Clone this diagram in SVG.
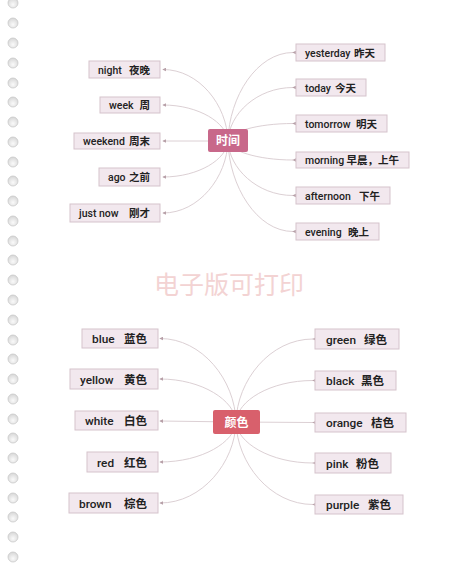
<svg xmlns="http://www.w3.org/2000/svg" width="460" height="571" viewBox="0 0 460 571">
<defs>
<radialGradient id="hole" cx="0.5" cy="0.65" r="0.6">
<stop offset="0" stop-color="#fafafa"/>
<stop offset="1" stop-color="#d9d9d9"/>
</radialGradient>
<marker id="dot" viewBox="0 0 6 6" refX="5" refY="3" markerWidth="4" markerHeight="4" orient="auto" markerUnits="userSpaceOnUse">
<path d="M0,0 L6,3 L0,6 z" fill="#b7a0a8"/>
</marker>
<marker id="dotR" viewBox="0 0 6 6" refX="1" refY="3" markerWidth="4" markerHeight="4" orient="auto" markerUnits="userSpaceOnUse">
<path d="M6,0 L0,3 L6,6 z" fill="#b7a0a8"/>
</marker>
</defs>
<style>
.box{fill:#f2e8ee;stroke:#d5c3cc;stroke-width:1}
.en{font-family:Roboto,"Liberation Sans",sans-serif;font-size:10.5px;font-weight:500;fill:#222;}
.zh{font-family:"Noto Sans CJK SC",sans-serif;font-size:10.5px;font-weight:bold;fill:#222;}
.en2{font-family:Roboto,"Liberation Sans",sans-serif;font-size:11.8px;font-weight:500;fill:#222;}
.zh2{font-family:"Noto Sans CJK SC",sans-serif;font-size:11.5px;font-weight:bold;fill:#222;}
.cen{font-family:"Noto Sans CJK SC",sans-serif;font-size:12px;font-weight:bold;fill:#fff;}
.c{fill:none;stroke:#dcd0d4;stroke-width:1}
.hole{fill:url(#hole);stroke:#c9c9c9;stroke-width:0.8}
</style>
<rect width="460" height="571" fill="#ffffff"/>
<g id="holes">
<circle class="hole" cx="13" cy="3" r="5"/><circle class="hole" cx="13" cy="23" r="5"/><circle class="hole" cx="13" cy="43" r="5"/><circle class="hole" cx="13" cy="63" r="5"/><circle class="hole" cx="13" cy="83" r="5"/><circle class="hole" cx="13" cy="102" r="5"/><circle class="hole" cx="13" cy="122" r="5"/><circle class="hole" cx="13" cy="142" r="5"/><circle class="hole" cx="13" cy="162" r="5"/><circle class="hole" cx="13" cy="181" r="5"/><circle class="hole" cx="13" cy="201" r="5"/><circle class="hole" cx="13" cy="221" r="5"/><circle class="hole" cx="13" cy="241" r="5"/><circle class="hole" cx="13" cy="260" r="5"/><circle class="hole" cx="13" cy="280" r="5"/><circle class="hole" cx="13" cy="300" r="5"/><circle class="hole" cx="13" cy="320" r="5"/><circle class="hole" cx="13" cy="340" r="5"/><circle class="hole" cx="13" cy="359" r="5"/><circle class="hole" cx="13" cy="379" r="5"/><circle class="hole" cx="13" cy="399" r="5"/><circle class="hole" cx="13" cy="419" r="5"/><circle class="hole" cx="13" cy="438" r="5"/><circle class="hole" cx="13" cy="458" r="5"/><circle class="hole" cx="13" cy="478" r="5"/><circle class="hole" cx="13" cy="498" r="5"/><circle class="hole" cx="13" cy="517" r="5"/><circle class="hole" cx="13" cy="537" r="5"/><circle class="hole" cx="13" cy="557" r="5"/>
</g>
<text x="229" y="294" text-anchor="middle" font-family="Noto Sans CJK SC,sans-serif" font-size="25" fill="#f3d3d3">电子版可打印</text>
<g id="connectors">
<path class="c" marker-end="url(#dot)" d="M228,141 C227,105 199,69.5 163,69.5"/>
<path class="c" marker-end="url(#dot)" d="M228,141 C227,123 199,105 163,105"/>
<path class="c" marker-end="url(#dot)" d="M228,141 L163,141"/>
<path class="c" marker-end="url(#dot)" d="M228,141 C227,159 199,177 163,177"/>
<path class="c" marker-end="url(#dot)" d="M228,141 C227,177 199,213 163,213"/>
<path class="c" marker-end="url(#dotR)" d="M228,141 C229,96.75 257,52.5 293,52.5"/>
<path class="c" marker-end="url(#dotR)" d="M228,141 C229,114 257,87.5 293,87.5"/>
<path class="c" marker-end="url(#dotR)" d="M228,141 C229,132 257,123.5 293,123.5"/>
<path class="c" marker-end="url(#dotR)" d="M228,141 C229,150.5 257,160 293,160"/>
<path class="c" marker-end="url(#dotR)" d="M228,141 C229,168 257,195.5 293,195.5"/>
<path class="c" marker-end="url(#dotR)" d="M228,141 C229,186 257,231.5 293,231.5"/>
<path class="c" marker-end="url(#dot)" d="M236,422 C235,380 202,338.5 160,338.5"/>
<path class="c" marker-end="url(#dot)" d="M236,422 C235,400.5 202,379 160,379"/>
<path class="c" marker-end="url(#dot)" d="M236,422 L160,421"/>
<path class="c" marker-end="url(#dot)" d="M236,422 C235,442 202,462 160,462"/>
<path class="c" marker-end="url(#dot)" d="M236,422 C235,462.5 202,503 160,503"/>
<path class="c" marker-end="url(#dotR)" d="M236,422 C237,380.5 270,339 313,339"/>
<path class="c" marker-end="url(#dotR)" d="M236,422 C237,401 270,380.5 313,380.5"/>
<path class="c" marker-end="url(#dotR)" d="M236,422 L313,422.5"/>
<path class="c" marker-end="url(#dotR)" d="M236,422 C237,442.5 270,463 313,463"/>
<path class="c" marker-end="url(#dotR)" d="M236,422 C237,463 270,504.5 313,504.5"/>
</g>
<g id="time">
<rect x="208" y="129" width="40" height="23" rx="2" fill="#c8688a"/>
<text class="cen" x="228" y="145" text-anchor="middle">时间</text>
</g>
<g id="color">
<rect x="213" y="410" width="47" height="24" rx="2" fill="#d8606c"/>
<text class="cen" x="236.5" y="426.5" text-anchor="middle">颜色</text>
</g>
<g id="n-night"><rect class="box" x="89" y="61" width="71" height="17"/><text class="en" x="98" y="73.5">night</text><text class="zh" x="150" y="73.5" text-anchor="end">夜晚</text></g>
<g id="n-week"><rect class="box" x="100" y="97" width="60" height="16"/><text class="en" x="109" y="109">week</text><text class="zh" x="150" y="109" text-anchor="end">周</text></g>
<g id="n-weekend"><rect class="box" x="74" y="133" width="86" height="16"/><text class="en" x="83" y="145">weekend</text><text class="zh" x="150" y="145" text-anchor="end">周末</text></g>
<g id="n-ago"><rect class="box" x="99" y="168" width="61" height="18"/><text class="en" x="108" y="181">ago</text><text class="zh" x="150" y="181" text-anchor="end">之前</text></g>
<g id="n-justnow"><rect class="box" x="70" y="204" width="90" height="18"/><text class="en" x="79" y="217">just now</text><text class="zh" x="150" y="217" text-anchor="end">刚才</text></g>
<g id="n-yesterday"><rect class="box" x="296" y="44" width="89" height="17"/><text class="en" x="305" y="56.5">yesterday</text><text class="zh" x="375" y="56.5" text-anchor="end">昨天</text></g>
<g id="n-today"><rect class="box" x="296" y="79" width="70" height="17"/><text class="en" x="305" y="91.5">today</text><text class="zh" x="356" y="91.5" text-anchor="end">今天</text></g>
<g id="n-tomorrow"><rect class="box" x="296" y="115" width="91" height="17"/><text class="en" x="305" y="127.5">tomorrow</text><text class="zh" x="377" y="127.5" text-anchor="end">明天</text></g>
<g id="n-morning"><rect class="box" x="296" y="152" width="113" height="16"/><text class="en" x="305" y="164">morning</text><text class="zh" x="399" y="164" text-anchor="end">早晨，上午</text></g>
<g id="n-afternoon"><rect class="box" x="296" y="187" width="94" height="17"/><text class="en" x="305" y="199.5">afternoon</text><text class="zh" x="380" y="199.5" text-anchor="end">下午</text></g>
<g id="n-evening"><rect class="box" x="296" y="223" width="83" height="17"/><text class="en" x="305" y="235.5">evening</text><text class="zh" x="369" y="235.5" text-anchor="end">晚上</text></g>
<g id="n-blue"><rect class="box" x="82" y="329" width="76" height="19"/><text class="en2" x="92" y="343">blue</text><text class="zh2" x="147" y="343" text-anchor="end">蓝色</text></g>
<g id="n-yellow"><rect class="box" x="70" y="369" width="88" height="20"/><text class="en2" x="80" y="383.5">yellow</text><text class="zh2" x="147" y="383.5" text-anchor="end">黄色</text></g>
<g id="n-white"><rect class="box" x="75" y="411" width="83" height="19"/><text class="en2" x="85" y="425">white</text><text class="zh2" x="147" y="425" text-anchor="end">白色</text></g>
<g id="n-red"><rect class="box" x="87" y="452" width="71" height="20"/><text class="en2" x="97" y="466.5">red</text><text class="zh2" x="147" y="466.5" text-anchor="end">红色</text></g>
<g id="n-brown"><rect class="box" x="69" y="493" width="89" height="20"/><text class="en2" x="79" y="507.5">brown</text><text class="zh2" x="147" y="507.5" text-anchor="end">棕色</text></g>
<g id="n-green"><rect class="box" x="315" y="329" width="84" height="20"/><text class="en2" x="326" y="343.5">green</text><text class="zh2" x="387" y="343.5" text-anchor="end">绿色</text></g>
<g id="n-black"><rect class="box" x="315" y="371" width="81" height="19"/><text class="en2" x="326" y="385">black</text><text class="zh2" x="384" y="385" text-anchor="end">黑色</text></g>
<g id="n-orange"><rect class="box" x="315" y="413" width="91" height="19"/><text class="en2" x="326" y="427">orange</text><text class="zh2" x="394" y="427" text-anchor="end">桔色</text></g>
<g id="n-pink"><rect class="box" x="315" y="453" width="76" height="20"/><text class="en2" x="326" y="467.5">pink</text><text class="zh2" x="379" y="467.5" text-anchor="end">粉色</text></g>
<g id="n-purple"><rect class="box" x="315" y="495" width="88" height="19"/><text class="en2" x="326" y="509">purple</text><text class="zh2" x="391" y="509" text-anchor="end">紫色</text></g>
</svg>
